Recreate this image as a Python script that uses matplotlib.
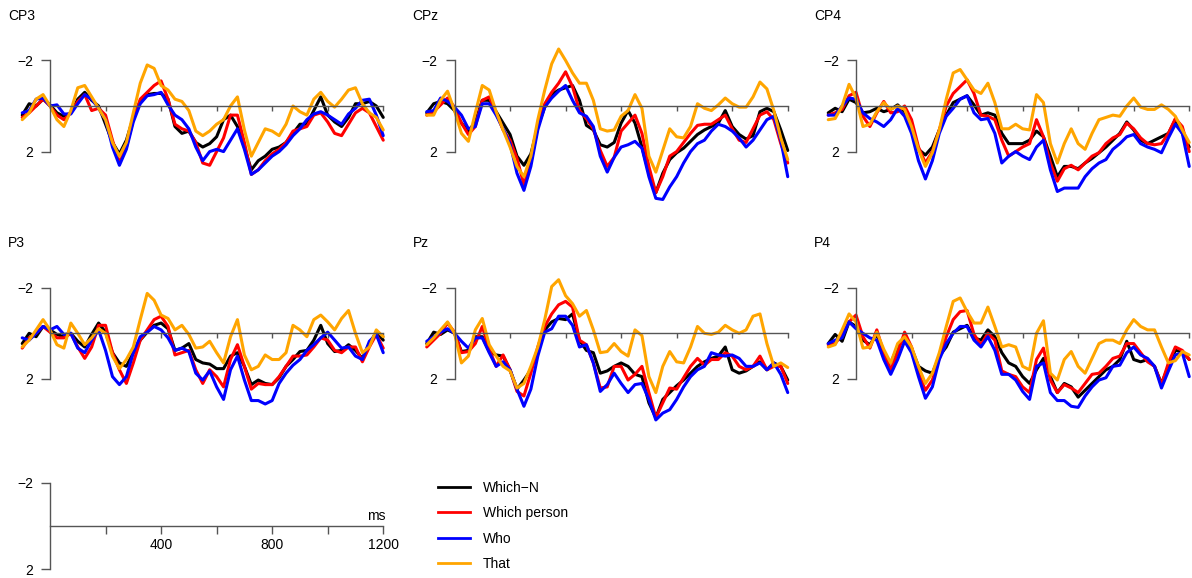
import numpy as np
import matplotlib
matplotlib.use("Agg")
import matplotlib.pyplot as plt
from matplotlib.lines import Line2D

plt.rcParams['font.family'] = ['Liberation Sans', 'DejaVu Sans']

# ---------------------------------------------------------------- data (µV)
times = np.arange(-100, 1201, 25)          # ms, 53 samples

conditions = ["Which\u2212N", "Which person", "Who", "That"]
colors = ["#000000", "#ff0000", "#0000ff", "#ffa500"]
electrodes = ["CP3", "CPz", "CP4", "P3", "Pz", "P4"]

cp3_which_n = [0.4, -0.1, 0.0, -0.3, -0.05, 0.3, 0.45, 0.3, -0.3, -0.6, -0.25, 0.0, 0.8,
               1.6, 2.1, 1.5, 0.5, -0.2, -0.5, -0.55, -0.55, -0.3, 0.9, 1.2, 1.1, 1.6,
               1.8, 1.65, 1.35, 0.6, 0.4, 0.9, 1.8, 2.8, 2.4, 2.2, 1.9, 1.8, 1.6,
               1.2, 0.8, 0.8, 0.2, -0.4, 0.4, 0.7, 0.9, 0.5, -0.1, -0.1, -0.2, 0.0, 0.5]
cp3_which_person = [0.5, 0.3, 0.0, -0.3, 0.0, 0.4, 0.6, 0.3, -0.2, -0.5, 0.2, 0.1, 0.4,
                    1.5, 2.5, 1.8, 0.6, -0.3, -0.6, -0.9, -1.1, -0.3, 0.8, 1.0, 1.1, 1.6,
                    2.5, 2.6, 2.0, 1.4, 0.4, 0.4, 1.6, 3.0, 2.8, 2.4, 2.1, 1.9, 1.6,
                    1.1, 1.0, 0.9, 0.4, 0.3, 0.7, 1.2, 1.3, 0.8, 0.3, 0.1, 0.3, 0.9, 1.5]
cp3_who = [0.3, 0.2, -0.3, -0.35, 0.0, -0.05, 0.35, 0.35, -0.1, -0.5, -0.3, 0.1, 0.6,
           1.8, 2.6, 1.9, 0.7, -0.1, -0.45, -0.5, -0.6, -0.05, 0.4, 0.6, 1.0, 1.8,
           2.4, 2.0, 1.9, 2.0, 1.5, 1.0, 1.9, 3.0, 2.8, 2.5, 2.2, 2.0, 1.7,
           1.3, 1.0, 0.6, 0.35, 0.25, 0.4, 0.6, 0.8, 0.35, 0.1, -0.25, -0.3, 0.4, 1.3]
cp3_that = [0.6, 0.3, -0.3, -0.5, 0.0, 0.6, 0.9, 0.2, -0.8, -0.9, -0.4, 0.1, 0.6,
            1.6, 2.2, 1.6, 0.3, -1.0, -1.8, -1.65, -0.9, -0.7, -0.3, -0.2, 0.2, 1.1,
            1.3, 1.1, 0.8, 0.6, 0.0, -0.4, 1.05, 2.2, 1.6, 1.0, 1.1, 1.3, 0.8,
            0.0, 0.25, 0.4, -0.3, -0.6, -0.2, 0.05, -0.3, -0.7, -0.8, -0.1, 0.3, 0.5, 1.05]

cpz_which_n = [0.3, -0.1, -0.2, -0.1, 0.2, 0.75, 1.1, 0.7, -0.25, -0.25, 0.25, 0.75, 1.25,
               2.2, 2.6, 2.1, 0.9, 0.05, -0.5, -0.7, -0.8, -0.9, -0.25, 0.85, 1.05, 1.7,
               1.8, 1.6, 0.75, 0.2, 0.75, 1.8, 2.95, 3.8, 2.95, 2.35, 2.05, 1.85, 1.55,
               1.25, 1.05, 0.9, 0.75, 0.2, 0.9, 1.25, 1.45, 1.3, 0.25, 0.1, 0.25, 1.05, 1.95]
cpz_which_person = [0.4, 0.25, -0.05, -0.35, 0.05, 0.75, 1.25, 0.9, -0.25, -0.4, 0.3, 1.05, 1.5,
                    2.3, 3.45, 2.5, 0.9, -0.1, -0.6, -1.0, -1.5, -0.85, 0.2, 0.55, 1.0, 1.95,
                    2.65, 2.25, 1.1, 0.75, 0.4, 1.2, 2.65, 3.8, 3.1, 2.2, 2.0, 1.6, 1.2,
                    0.85, 0.8, 0.8, 0.6, 0.4, 1.0, 1.5, 1.6, 1.0, 0.4, 0.25, 0.6, 1.65, 2.5]
cpz_who = [0.25, 0.2, -0.35, -0.2, 0.05, 0.4, 1.0, 0.9, -0.1, -0.1, 0.4, 1.0, 1.65,
           2.95, 3.7, 2.65, 1.05, 0.05, -0.35, -0.65, -0.9, -0.25, 0.3, 0.45, 0.9, 2.2,
           2.9, 2.25, 1.8, 1.7, 1.55, 1.85, 3.1, 4.05, 4.1, 3.55, 3.1, 2.5, 2.0,
           1.65, 1.5, 1.1, 0.8, 0.9, 1.1, 1.4, 1.8, 1.5, 1.05, 0.6, 0.45, 1.5, 3.1]
cpz_that = [0.4, 0.4, -0.25, -0.65, 0.2, 1.2, 1.55, 0.3, -0.9, -0.7, 0.25, 1.05, 1.8,
            2.65, 3.1, 2.2, 0.6, -0.7, -1.85, -2.5, -2.0, -1.45, -1.0, -1.0, -0.25, 1.0,
            1.1, 1.05, 0.45, 0.2, -0.5, 0.1, 2.2, 2.9, 1.95, 1.0, 1.35, 1.4, 0.9,
            -0.1, 0.1, 0.2, -0.05, -0.35, -0.1, 0.05, 0.05, -0.4, -1.05, -0.75, 0.2, 1.4, 2.35]

cp4_which_n = [0.3, 0.1, 0.25, -0.3, -0.15, 0.3, 0.25, 0.1, 0.25, 0.15, -0.05, 0.25, 0.9,
               1.9, 2.15, 1.8, 1.05, 0.4, -0.15, -0.3, -0.45, -0.05, 0.4, 0.3, 0.4, 1.2,
               1.65, 1.65, 1.65, 1.5, 1.1, 1.35, 2.2, 3.1, 2.65, 2.65, 2.75, 2.5, 2.3,
               2.05, 1.8, 1.5, 1.2, 0.7, 1.05, 1.5, 1.65, 1.5, 1.35, 1.2, 0.6, 1.2, 1.8]
cp4_which_person = [0.4, 0.3, 0.15, -0.45, -0.6, 0.45, 0.9, 0.3, -0.2, 0.3, 0.25, 0.0, 0.6,
                    1.8, 2.5, 2.0, 1.05, 0.0, -0.55, -0.85, -1.15, -0.55, 0.4, 0.45, 0.6, 1.5,
                    2.2, 2.0, 1.8, 1.65, 0.6, 1.35, 2.5, 3.3, 2.75, 2.6, 2.8, 2.5, 2.2,
                    2.05, 1.65, 1.4, 1.25, 0.75, 1.0, 1.4, 1.65, 1.7, 1.65, 1.2, 0.55, 0.9, 2.0]
cp4_who = [0.4, 0.4, 0.0, -0.35, -0.3, 0.3, 0.55, 0.7, 0.9, 0.6, 0.1, 0.45, 1.2,
           2.4, 3.2, 2.4, 1.2, 0.45, 0.1, -0.3, -0.45, 0.3, 0.6, 0.55, 1.2, 2.5,
           2.2, 2.0, 2.2, 2.35, 1.8, 1.5, 2.8, 3.75, 3.6, 3.6, 3.6, 3.1, 2.75,
           2.5, 2.35, 1.9, 1.65, 1.35, 1.25, 1.65, 1.8, 1.9, 2.05, 1.4, 0.8, 1.2, 2.65]
cp4_that = [0.6, 0.55, 0.0, -0.95, -0.35, 0.9, 0.8, 0.25, -0.15, 0.15, 0.0, 0.15, 0.9,
            1.9, 2.65, 2.05, 1.05, -0.3, -1.45, -1.6, -1.15, -0.7, -0.55, -1.0, -0.15, 1.0,
            1.0, 0.8, 1.0, 1.05, -0.5, -0.15, 1.65, 2.5, 1.65, 1.0, 1.65, 1.9, 1.2,
            0.6, 0.5, 0.4, 0.45, 0.0, -0.35, 0.05, 0.15, 0.15, -0.05, 0.15, 0.45, 1.05, 1.6]

p3_which_n = [0.45, 0.0, 0.15, -0.3, -0.15, 0.05, 0.15, 0.0, 0.35, 0.6, 0.05, -0.45, -0.05,
              0.85, 1.3, 1.45, 0.85, 0.3, -0.05, -0.35, -0.45, -0.2, 0.75, 0.65, 0.45, 1.15,
              1.3, 1.35, 1.55, 1.55, 1.0, 0.85, 1.45, 2.25, 2.05, 2.2, 2.25, 1.95, 1.45,
              1.15, 0.8, 0.75, 0.3, -0.35, 0.45, 0.8, 0.75, 0.5, 0.75, 1.1, 0.45, -0.05, 0.3]
p3_which_person = [0.65, 0.2, 0.0, -0.3, -0.05, 0.2, 0.2, 0.0, 0.6, 1.1, 0.6, -0.35, -0.35,
                   0.85, 1.6, 2.2, 1.3, 0.3, -0.15, -0.6, -0.75, -0.3, 0.95, 0.85, 0.75, 1.6,
                   2.2, 1.6, 1.9, 2.35, 1.15, 0.5, 1.45, 2.45, 2.2, 2.25, 2.25, 1.9, 1.45,
                   1.0, 1.0, 0.95, 0.6, 0.2, 0.3, 0.75, 0.85, 0.6, 0.6, 1.25, 0.6, 0.05, 0.65]
p3_who = [0.2, 0.3, 0.0, -0.3, -0.15, -0.3, 0.05, 0.0, 0.65, 0.85, 0.3, -0.15, 0.75,
          1.9, 2.25, 1.9, 0.85, 0.15, -0.05, -0.3, -0.15, 0.2, 0.75, 0.65, 0.8, 1.75,
          2.05, 1.65, 2.35, 2.9, 1.6, 1.0, 2.05, 2.95, 2.95, 3.1, 2.95, 2.2, 1.75,
          1.4, 1.15, 0.75, 0.5, 0.2, -0.05, 0.3, 0.65, 0.6, 1.0, 1.15, 0.35, 0.05, 0.85]
p3_that = [0.6, 0.3, -0.15, -0.6, -0.15, 0.5, 0.65, -0.45, 0.0, 0.5, 0.2, -0.2, 0.0,
           1.0, 1.55, 1.15, 0.6, -0.6, -1.75, -1.45, -0.8, -0.65, -0.15, -0.35, 0.05, 0.65,
           0.6, 0.35, 0.85, 1.3, 0.15, -0.6, 0.95, 1.6, 1.45, 0.95, 1.15, 1.15, 0.85,
           -0.35, -0.15, 0.15, -0.6, -0.8, -0.5, -0.15, -0.65, -1.0, 0.0, 0.85, 0.6, -0.15, 0.15]

pz_which_n = [0.45, -0.05, 0.05, -0.15, 0.0, 0.8, 0.75, 0.15, 0.15, 0.8, 0.95, 1.0, 1.6,
              2.45, 2.05, 1.6, 0.75, -0.15, -0.5, -0.65, -0.6, -0.85, 0.3, 0.75, 0.85, 1.75,
              1.65, 1.45, 1.3, 1.45, 1.8, 1.9, 3.05, 3.7, 2.9, 2.6, 2.3, 2.05, 1.75,
              1.45, 1.25, 1.1, 1.0, 0.6, 1.6, 1.75, 1.65, 1.45, 1.25, 1.6, 1.3, 1.45, 2.05]
pz_which_person = [0.6, 0.3, 0.0, -0.45, -0.05, 0.85, 0.8, 0.45, -0.3, 0.7, 1.45, 0.95, 1.6,
                   2.55, 2.75, 1.75, 0.6, -0.3, -0.85, -1.25, -1.4, -1.15, 0.3, 0.5, 1.3, 2.4,
                   2.35, 1.45, 1.45, 2.05, 1.8, 1.45, 2.6, 3.7, 3.05, 2.4, 2.45, 1.95, 1.45,
                   1.1, 1.4, 1.15, 1.15, 0.85, 1.0, 1.45, 1.6, 1.45, 1.0, 1.6, 1.45, 1.45, 2.2]
pz_who = [0.35, 0.15, -0.05, -0.2, 0.0, 0.35, 0.65, 0.2, 0.2, 0.85, 1.45, 1.25, 1.6,
          2.45, 3.2, 2.45, 1.0, -0.05, -0.2, -0.75, -0.75, -0.35, 0.6, 0.5, 1.3, 2.55,
          2.25, 1.75, 2.2, 2.6, 2.25, 2.2, 2.9, 3.8, 3.5, 3.35, 2.9, 2.35, 1.9,
          1.6, 1.45, 0.85, 0.95, 1.0, 0.95, 1.1, 1.45, 1.45, 1.3, 1.6, 1.3, 1.8, 2.6]
pz_that = [0.5, 0.2, -0.15, -0.5, 0.0, 1.3, 1.0, -0.15, -0.65, 0.5, 1.0, 1.45, 1.65,
           2.4, 2.2, 1.45, 0.6, -0.6, -2.05, -2.35, -1.65, -1.3, -0.75, -1.0, -0.15, 0.85,
           0.8, 0.45, 0.8, 1.0, -0.15, 0.1, 1.9, 2.6, 1.45, 0.8, 1.25, 1.3, 0.6,
           -0.3, 0.0, 0.05, -0.05, -0.35, -0.15, 0.0, -0.15, -0.75, -0.85, 0.45, 1.45, 1.3, 1.5]

p4_which_n = [0.45, 0.05, 0.35, -0.5, -0.3, 0.3, 0.5, 0.05, 0.85, 1.3, 0.6, 0.15, 0.65,
              1.45, 1.65, 1.75, 1.0, 0.6, -0.05, -0.2, -0.35, 0.2, 0.3, -0.15, 0.15, 0.85,
              1.3, 1.45, 1.9, 2.2, 1.6, 1.1, 1.9, 2.6, 2.2, 2.35, 2.8, 2.5, 2.2,
              1.9, 1.6, 1.45, 1.15, 0.35, 1.15, 1.25, 1.15, 1.45, 2.2, 1.45, 0.75, 0.8, 1.15]
p4_which_person = [0.5, 0.45, 0.05, -0.5, -0.8, 0.15, 0.65, -0.15, 0.85, 1.6, 0.85, -0.05, 0.6,
                   1.75, 2.5, 2.05, 1.1, 0.15, -0.6, -0.95, -1.0, 0.05, 0.5, 0.0, 0.3, 1.65,
                   1.8, 1.9, 2.35, 2.6, 1.15, 0.65, 2.05, 2.6, 2.25, 2.4, 2.6, 2.2, 1.8,
                   1.75, 1.45, 1.1, 1.0, 0.45, 0.45, 0.85, 1.25, 1.45, 2.25, 1.3, 0.6, 0.75, 1.15]
p4_who = [0.45, 0.3, 0.2, -0.5, -0.2, 0.0, 0.2, 0.3, 1.15, 1.8, 1.15, 0.35, 0.85,
          1.9, 2.85, 2.35, 1.15, 0.45, 0.0, -0.3, -0.3, 0.3, 0.6, 0.15, 0.75, 1.8,
          1.8, 2.05, 2.55, 2.9, 1.45, 1.3, 2.6, 2.95, 2.95, 3.2, 3.25, 2.75, 2.35,
          2.05, 1.95, 1.45, 1.4, 0.85, 0.6, 0.95, 1.1, 1.45, 2.4, 1.65, 0.95, 0.85, 1.9]
p4_that = [0.6, 0.5, -0.15, -0.85, -0.5, 0.65, 0.6, -0.05, 0.7, 1.3, 0.45, 0.15, 0.6,
           1.45, 2.2, 1.75, 0.85, -0.3, -1.4, -1.55, -0.95, -0.45, -0.45, -1.15, -0.3, 0.6,
           0.5, 0.6, 1.45, 1.6, 0.0, -0.55, 1.75, 2.05, 1.15, 0.8, 1.45, 1.75, 1.1,
           0.45, 0.3, 0.3, 0.45, -0.15, -0.6, -0.3, -0.15, -0.15, 0.6, 1.3, 1.2, 0.8, 0.95]

erp = {
    "CP3": [cp3_which_n, cp3_which_person, cp3_who, cp3_that],
    "CPz": [cpz_which_n, cpz_which_person, cpz_who, cpz_that],
    "CP4": [cp4_which_n, cp4_which_person, cp4_who, cp4_that],
    "P3": [p3_which_n, p3_which_person, p3_who, p3_that],
    "Pz": [pz_which_n, pz_which_person, pz_who, pz_that],
    "P4": [p4_which_n, p4_which_person, p4_who, p4_that],
}

# ---------------------------------------------------------------- layout (px)
W, H = 1192, 578
PX_MS = 0.2777
AXIS_COL = "#555555"
FS = 10

fig = plt.figure(figsize=(W / 100, H / 100), dpi=100)
fig.patch.set_facecolor("white")


def make_axes(x0, y0, px_uv, ymin, ymax, xtick_len, ytick_len):
    """Axes whose t=0 / 0 µV origin lands on pixel (x0, y0); negative up."""
    left = x0 - 100 * PX_MS
    right = x0 + 1200 * PX_MS
    top = y0 + ymin * px_uv
    bottom = y0 + ymax * px_uv
    ax = fig.add_axes([left / W, 1 - bottom / H, (right - left) / W, (bottom - top) / H])
    ax.set_xlim(-100, 1200)
    ax.set_ylim(ymax, ymin)
    ax.patch.set_visible(False)
    for s in ("top", "right"):
        ax.spines[s].set_visible(False)
    ax.spines["left"].set_position(("data", 0))
    ax.spines["left"].set_bounds(-2, 2)
    ax.spines["bottom"].set_position(("data", 0))
    ax.spines["bottom"].set_bounds(0, 1200)
    for s in ("left", "bottom"):
        ax.spines[s].set_color(AXIS_COL)
        ax.spines[s].set_linewidth(1.0)
    ax.set_yticks([-2, 2])
    ax.set_yticklabels(["\u22122", "2"])
    ax.set_xticks(np.arange(200, 1201, 200))
    ax.tick_params(axis="y", direction="out", length=ytick_len, width=1.0,
                   color=AXIS_COL, pad=5.8, labelsize=FS)
    ax.tick_params(axis="x", direction="out", length=xtick_len, width=1.0,
                   color=AXIS_COL, labelsize=FS)
    return ax


origins = {"CP3": (50, 106), "CPz": (454.5, 106), "CP4": (856, 106),
           "P3": (50, 333.3), "Pz": (454.5, 333.3), "P4": (856, 333.3)}

for name in electrodes:
    x0, y0 = origins[name]
    ax = make_axes(x0, y0, 22.8, -3.2, 4.6, 3.6, 6.5)
    ax.set_xticklabels([])
    for series, col in zip(erp[name], colors):
        ax.plot(times, series, color=col, lw=2.2, solid_joinstyle="round",
                solid_capstyle="round", clip_on=False)
    fig.text((x0 - 42) / W, 1 - (y0 - 90.5) / H, name, ha="left", va="center",
             fontsize=FS)

# scale bar
sax = make_axes(50, 526, 21.65, -2.3, 2.3, 5.8, 6.5)
sax.set_xticklabels(["", "400", "", "800", "", "1200"])
sax.tick_params(axis="x", pad=2.5)
sax.annotate("ms", xy=(1200, 0), xytext=(2, 2.5), textcoords="offset points",
             ha="right", va="bottom", fontsize=FS)

# legend
handles = [Line2D([0], [0], color=c, lw=2.0) for c in colors]
fig.legend(handles, conditions, loc="center left",
           bbox_to_anchor=(438 / W, 1 - 526 / H), frameon=False,
           borderpad=0, borderaxespad=0, handlelength=2.3, handletextpad=0.93,
           labelspacing=0.83, fontsize=FS)

fig.savefig("out.png", dpi=100, facecolor="white")
